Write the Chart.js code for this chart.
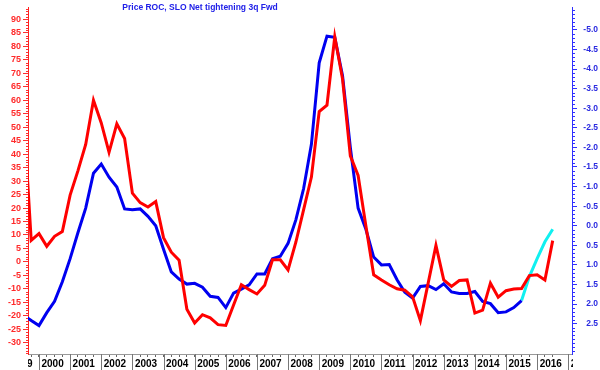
<!DOCTYPE html>
<html>
<head>
<meta charset="utf-8">
<script src="https://cdn.jsdelivr.net/npm/chart.js@4.4.1/dist/chart.umd.min.js"></script>
<style>
html, body { margin: 0; padding: 0; background: #fff; }
</style>
</head>
<body>
<canvas id="rocChart" width="600" height="370"></canvas>
<script>
// quarterly samples, first one sits just left of the visible window
const firstQuarter = 1999.5;
const firstYear = 1999;
const yearLabels = ["1999", "2000", "2001", "2002", "2003", "2004", "2005", "2006", "2007",
    "2008", "2009", "2010", "2011", "2012", "2013", "2014", "2015", "2016", "2017"];
const leftTicks = [-30, -25, -20, -15, -10, -5, 0, 5, 10, 15, 20, 25, 30, 35, 40, 45,
    50, 55, 60, 65, 70, 75, 80, 85, 90];
const rightTicks = [-5.0, -4.5, -4.0, -3.5, -3.0, -2.5, -2.0, -1.5, -1.0, -0.5, 0.0,
    0.5, 1.0, 1.5, 2.0, 2.5];

// Price ROC (left axis)
const priceRoc = [56, 8, 10.5, 5.8, 9.5, 11.3, 24.8, 33.8, 43.6, 60, 51.6, 40.7, 51.3,
    45.8, 25.5, 22, 20.4, 22.4, 9, 3.6, 0.6, -17.6, -22.7, -19.6, -20.8, -23.3, -23.6,
    -16, -8.5, -10.3, -11.9, -8.7, 0.8, 0.8, -3, 7.3, 19.4, 31.5, 55.8, 58.2, 83.6, 67.9,
    39.4, 32.1, 13.3, -4.8, -6.7, -8.5, -10, -10.5, -13, -21.8, -7.9, 6.1, -6.7, -9.1,
    -6.9, -6.7, -19, -17.9, -7.9, -13.1, -10.7, -10.1, -9.9, -5.1, -4.8, -6.7, 7.9];

// SLO net tightening 3q fwd (right axis, inverted)
const sloTightening = [2.28, 2.42, 2.55, 2.22, 1.93, 1.43, 0.84, 0.18, -0.45, -1.34,
    -1.575, -1.24, -0.99, -0.43, -0.41, -0.43, -0.24, 0.0, 0.6, 1.18, 1.36, 1.49, 1.47,
    1.57, 1.8, 1.83, 2.09, 1.72, 1.62, 1.51, 1.23, 1.23, 0.84, 0.78, 0.45, -0.15, -0.95,
    -2.08, -4.16, -4.84, -4.81, -3.83, -2.0, -0.45, 0.09, 0.8, 1.0, 0.99, 1.38, 1.7,
    1.85, 1.55, 1.53, 1.63, 1.48, 1.69, 1.73, 1.73, 1.68, 1.93, 1.99, 2.22, 2.2, 2.09,
    1.91];

// projected tail (cyan), starts on the last SLO sample
const sloForecast = [1.91, 1.3, 0.84, 0.41, 0.09];

const quarters = priceRoc.map((_, i) => firstQuarter + i / 4);
const forecastStart = sloTightening.length - 1;

const FONT = '"Liberation Sans", Arial, sans-serif';

const pts = (vals, offset) => vals.map((v, i) => ({ x: quarters[i + offset], y: v }));

const chartDecor = {
    id: "chartDecor",
    afterDraw(chart) {
        const { ctx, chartArea: ca, scales } = chart;
        const x = scales.x, yl = scales.y, yr = scales.y2;
        ctx.save();

        // minor ticks
        ctx.lineWidth = 1;
        ctx.strokeStyle = "#ff3030";
        ctx.beginPath();
        for (let v = Math.ceil(yl.min); v <= yl.max; v++) {
            if (v % 5 === 0) continue;
            const py = Math.round(yl.getPixelForValue(v)) + 0.5;
            ctx.moveTo(ca.left - 2, py);
            ctx.lineTo(ca.left, py);
        }
        ctx.stroke();
        ctx.strokeStyle = "#3030ff";
        ctx.beginPath();
        for (let n = Math.ceil(yr.min * 10); n <= yr.max * 10; n++) {
            if (n % 5 === 0 && n >= -50 && n <= 25) continue;
            const py = Math.round(yr.getPixelForValue(n / 10)) + 0.5;
            ctx.moveTo(ca.right, py);
            ctx.lineTo(ca.right + 3, py);
        }
        ctx.stroke();

        // year separators and labels
        ctx.beginPath();
        ctx.rect(ca.left, ca.bottom, ca.right - ca.left + 1, 20);
        ctx.clip();
        ctx.strokeStyle = "#777";
        ctx.beginPath();
        yearLabels.forEach((_, i) => {
            const px = Math.round(x.getPixelForValue(firstYear + i)) + 0.5;
            ctx.moveTo(px, ca.bottom);
            ctx.lineTo(px, ca.bottom + 16);
        });
        ctx.stroke();
        ctx.fillStyle = "#000";
        ctx.font = "bold 10px " + FONT;
        ctx.textAlign = "left";
        ctx.textBaseline = "middle";
        yearLabels.forEach((lab, i) => {
            const px = x.getPixelForValue(firstYear + i);
            ctx.fillText(lab, px + 2.5, ca.bottom + 10);
        });
        ctx.restore();

        // title
        ctx.save();
        ctx.fillStyle = "#2020e8";
        ctx.font = "bold 8.5px " + FONT;
        ctx.textAlign = "center";
        ctx.textBaseline = "middle";
        ctx.fillText("Price ROC, SLO Net tightening 3q Fwd", 200, 8);
        ctx.restore();
    },
};

new Chart(document.getElementById("rocChart"), {
    type: "line",
    data: {
        datasets: [
            {
                label: "Price ROC",
                data: pts(priceRoc, 0),
                yAxisID: "y",
                borderColor: "#ff0000",
                borderWidth: 3,
                pointRadius: 0,
                tension: 0,
            },
            {
                label: "SLO Net tightening 3q Fwd",
                data: pts(sloTightening, 0),
                yAxisID: "y2",
                borderColor: "#0000f0",
                borderWidth: 3,
                pointRadius: 0,
                tension: 0,
            },
            {
                label: "Forecast",
                data: pts(sloForecast, forecastStart),
                yAxisID: "y2",
                borderColor: "#10f0f0",
                borderWidth: 3,
                pointRadius: 0,
                tension: 0,
            },
        ],
    },
    options: {
        responsive: false,
        animation: false,
        layout: { padding: { left: 0, right: 2, top: 0, bottom: 0 } },
        plugins: {
            legend: { display: false },
            tooltip: { enabled: false },
            title: { display: false },
        },
        scales: {
            x: {
                type: "linear",
                min: 1999.647,
                max: 2017.12,
                afterBuildTicks: (s) => {
                    s.ticks = quarters.filter((q) => q > s.min).map((q) => ({ value: q }));
                },
                afterFit: (s) => { s.height = 16; },
                ticks: { display: false },
                grid: { drawOnChartArea: false, tickLength: 3, color: "#666" },
                border: { color: "#999", width: 1 },
            },
            y: {
                position: "left",
                min: -34.2,
                max: 94.5,
                afterBuildTicks: (s) => { s.ticks = leftTicks.map((v) => ({ value: v })); },
                afterFit: (s) => { s.width = 28; },
                ticks: {
                    color: "#ff2a2a",
                    padding: 2,
                    font: { family: FONT, size: 9, weight: "bold" },
                },
                grid: { drawOnChartArea: false, tickLength: 5, color: "#ff3030" },
                border: { color: "#ff2020", width: 1 },
            },
            y2: {
                position: "right",
                reverse: true,
                min: -5.575,
                max: 3.275,
                afterBuildTicks: (s) => { s.ticks = rightTicks.map((v) => ({ value: v })); },
                afterFit: (s) => { s.width = 26; },
                ticks: {
                    color: "#2a2ae0",
                    padding: 2,
                    crossAlign: "far",
                    font: { family: FONT, size: 8.5, weight: "bold" },
                    callback: (v) => v.toFixed(1),
                },
                grid: { drawOnChartArea: false, tickLength: 5, color: "#3030ff" },
                border: { color: "#3030ff", width: 1 },
            },
        },
    },
    plugins: [chartDecor],
});
</script>
</body>
</html>
